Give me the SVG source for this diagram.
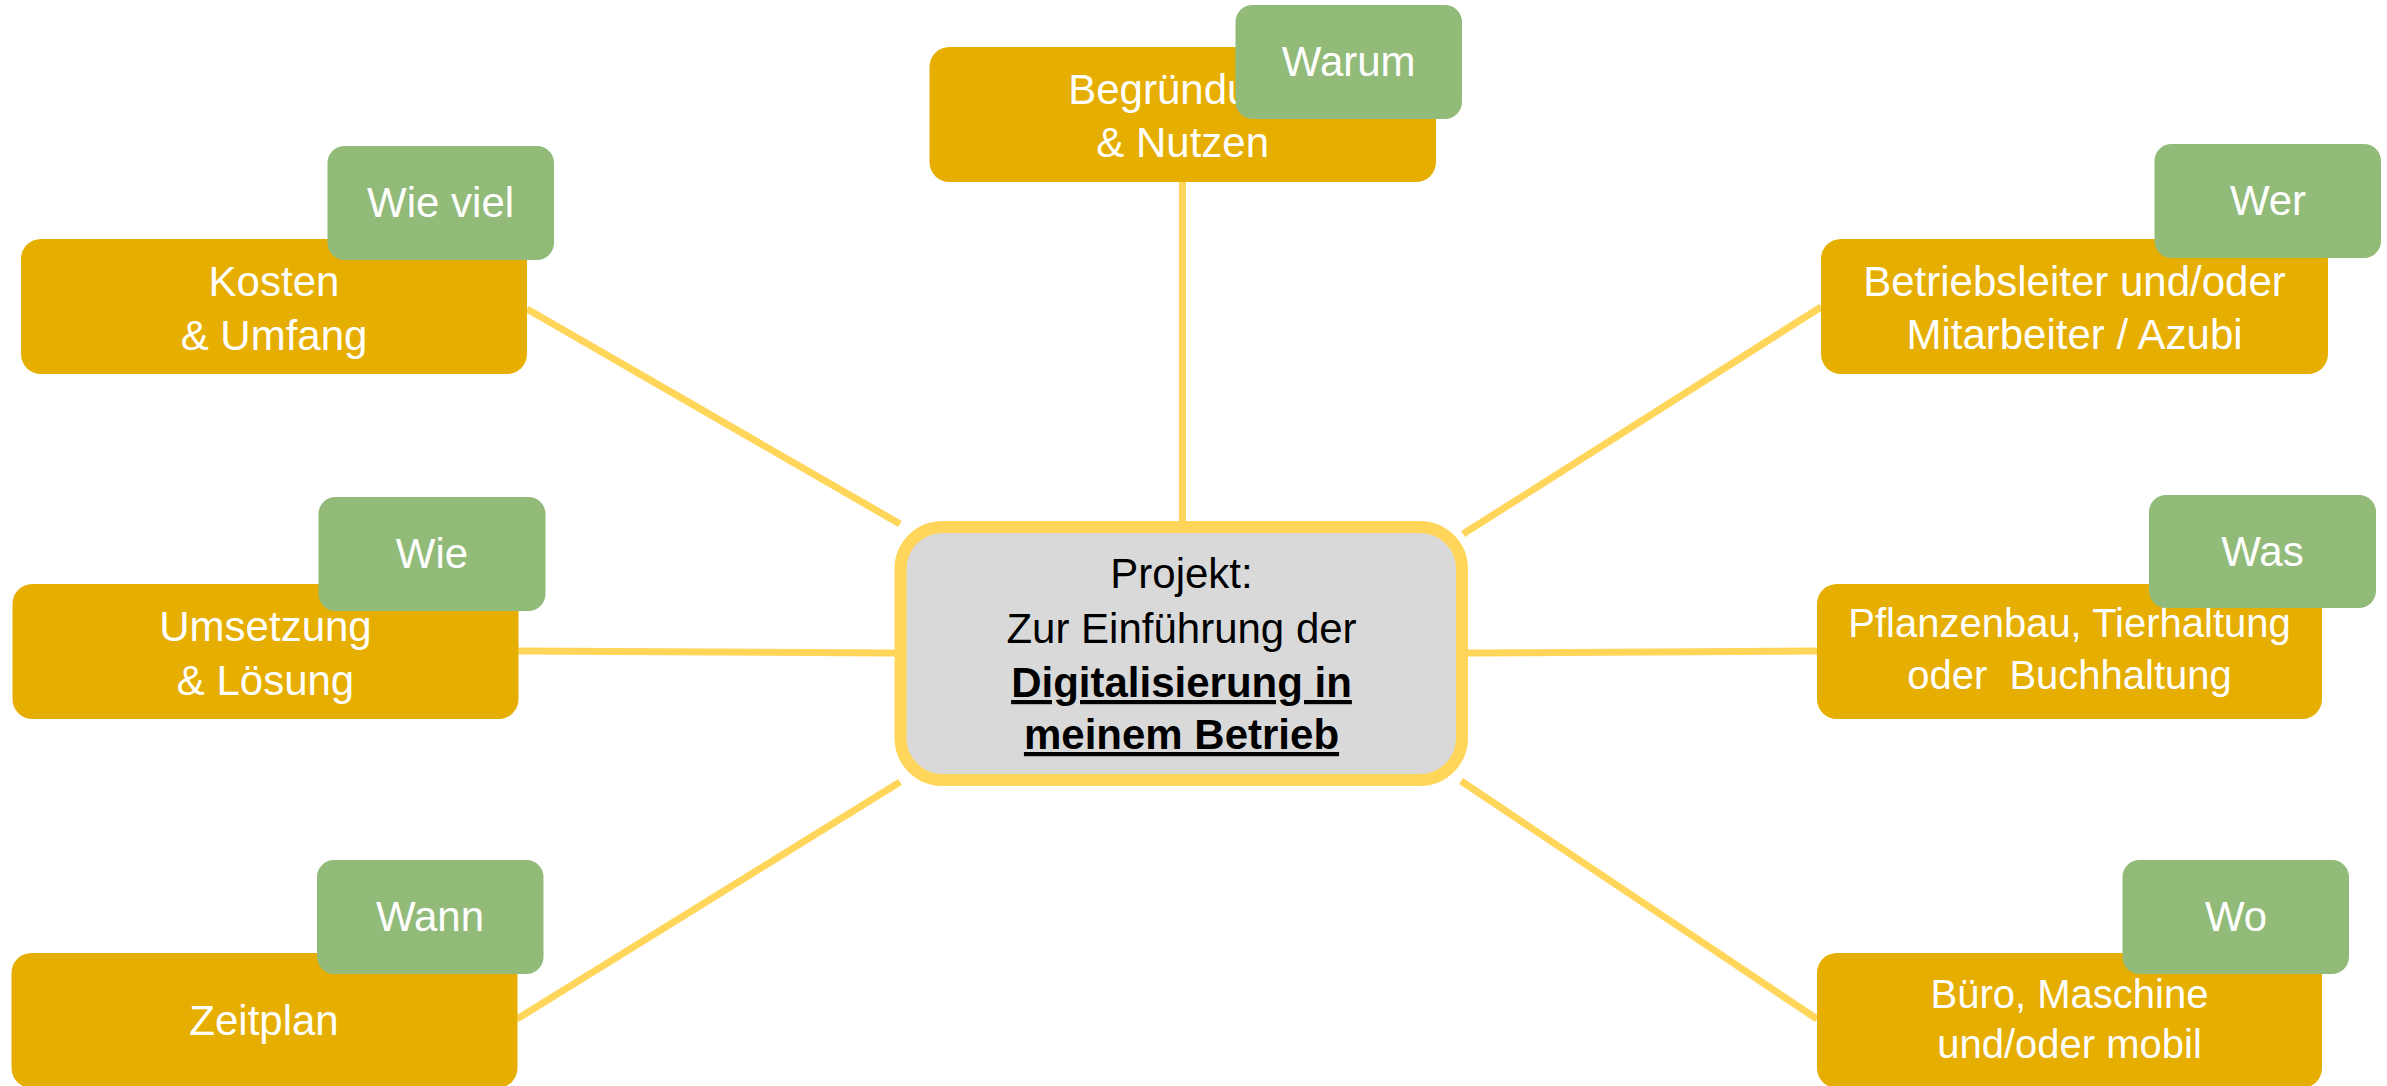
<svg xmlns="http://www.w3.org/2000/svg" width="2387" height="1086" viewBox="0 0 2387 1086">
<style>
.o{fill:#E6AE00}
.g{fill:#92BB7A}
.t{font-family:"Liberation Sans",Arial,sans-serif;font-size:42px;fill:#FFFFFF;text-anchor:middle}
.s{font-size:40px}
.c{font-family:"Liberation Sans",Arial,sans-serif;font-size:42px;fill:#000000;text-anchor:middle}
.b{font-weight:bold;text-decoration:underline}
.l{stroke:#FFD55A;stroke-width:7;fill:none}
</style>
<rect width="2387" height="1086" fill="#FFFFFF"/>
<g id="connectors">
<line class="l" x1="1182.5" y1="182" x2="1182.5" y2="522"/>
<line class="l" x1="527" y1="309" x2="900" y2="524"/>
<line class="l" x1="1463" y1="534" x2="1821" y2="307"/>
<line class="l" x1="518" y1="651" x2="895" y2="653"/>
<line class="l" x1="1467" y1="653" x2="1817" y2="651"/>
<line class="l" x1="517" y1="1019" x2="900" y2="782"/>
<line class="l" x1="1461" y1="781" x2="1817" y2="1019"/>
</g>
<g id="center">
<rect x="900.5" y="527" width="561.5" height="253" rx="42" fill="#D9D9D9" stroke="#FFD55A" stroke-width="12"/>
<text class="c" x="1181.5" y="588">Projekt:</text>
<text class="c" x="1181.5" y="643">Zur Einführung der</text>
<text class="c b" x="1181.5" y="697">Digitalisierung in</text>
<text class="c b" x="1181.5" y="749">meinem Betrieb</text>
</g>
<g id="node-begruendung">
<rect class="o" x="929.5" y="47" width="506.5" height="135" rx="20"/>
<text class="t" x="1182.7" y="104">Begründung</text>
<text class="t" x="1182.7" y="157">&amp; Nutzen</text>
</g>
<g id="tag-warum">
<rect class="g" x="1235.5" y="5" width="226.5" height="114" rx="17"/>
<text class="t" x="1348.7" y="76">Warum</text>
</g>
<g id="node-kosten">
<rect class="o" x="21" y="239" width="506" height="135" rx="20"/>
<text class="t" x="274" y="296">Kosten</text>
<text class="t" x="274" y="350">&amp; Umfang</text>
</g>
<g id="tag-wieviel">
<rect class="g" x="327.5" y="146" width="226.5" height="114" rx="17"/>
<text class="t" x="440.6" y="217">Wie viel</text>
</g>
<g id="node-umsetzung">
<rect class="o" x="12.5" y="584" width="506" height="135" rx="20"/>
<text class="t" x="265.5" y="641">Umsetzung</text>
<text class="t" x="265.5" y="695">&amp; Lösung</text>
</g>
<g id="tag-wie">
<rect class="g" x="318.5" y="497" width="227" height="114" rx="17"/>
<text class="t" x="432" y="568">Wie</text>
</g>
<g id="node-zeitplan">
<rect class="o" x="11.5" y="953" width="506" height="135" rx="20"/>
<text class="t" x="264" y="1035">Zeitplan</text>
</g>
<g id="tag-wann">
<rect class="g" x="317" y="860" width="226.5" height="114" rx="17"/>
<text class="t" x="430" y="931">Wann</text>
</g>
<g id="node-betriebsleiter">
<rect class="o" x="1821" y="239" width="507" height="135" rx="20"/>
<text class="t" x="2074.5" y="296">Betriebsleiter und/oder</text>
<text class="t" x="2074.5" y="349">Mitarbeiter / Azubi</text>
</g>
<g id="tag-wer">
<rect class="g" x="2154.5" y="144" width="226.5" height="114" rx="17"/>
<text class="t" x="2268" y="215">Wer</text>
</g>
<g id="node-pflanzenbau">
<rect class="o" x="1817" y="584" width="505" height="135" rx="20"/>
<text class="t s" x="2069.5" y="637">Pflanzenbau, Tierhaltung</text>
<text class="t s" x="2069.5" y="689" xml:space="preserve">oder  Buchhaltung</text>
</g>
<g id="tag-was">
<rect class="g" x="2149" y="495" width="227" height="113" rx="17"/>
<text class="t" x="2262.5" y="566">Was</text>
</g>
<g id="node-buero">
<rect class="o" x="1817" y="953" width="505" height="135" rx="20"/>
<text class="t s" x="2069.5" y="1008">Büro, Maschine</text>
<text class="t s" x="2069.5" y="1058">und/oder mobil</text>
</g>
<g id="tag-wo">
<rect class="g" x="2122.5" y="860" width="226.5" height="114" rx="17"/>
<text class="t" x="2236" y="931">Wo</text>
</g>
</svg>
